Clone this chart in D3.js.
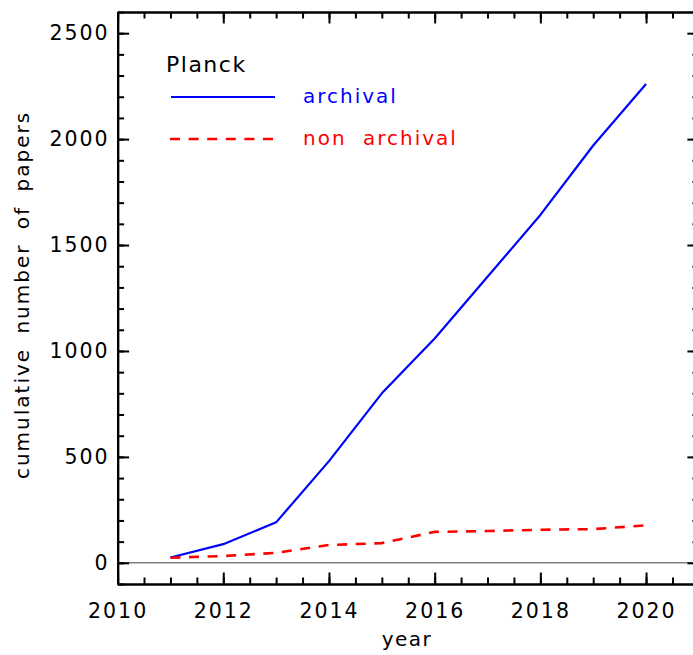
<!DOCTYPE html>
<html><head><meta charset="utf-8">
<script src="https://cdn.jsdelivr.net/npm/d3@7"></script>
<style>
body{margin:0;background:#fff;}
text{font-family:"DejaVu Sans",sans-serif;}
</style></head>
<body><svg id="c" width="693" height="655"></svg>
<script>
const years = [2011,2012,2013,2014,2015,2016,2017,2018,2019,2020];
const archival = [25,88,191,480,800,1059,1350,1642,1970,2260];
const nonArchival = [24,32,47,84,93,146,150,156,159,177];
const xMajorTicks = [2010,2012,2014,2016,2018,2020];
const yMajorTicks = [0,500,1000,1500,2000,2500];
const legendTitle = "Planck";
const seriesNames = ["archival","non archival"];
const xTitle = "year";
const yTitle = "cumulative number of papers";

const svg = d3.select("#c");
const x = d3.scaleLinear().domain([2010,2021]).range([117.6,698.9]);
const y = d3.scaleLinear().domain([-100,2600]).range([584,12]);

const xMinor = d3.range(2010,2021.01,0.5);
const yMinor = d3.range(-100,2600.1,100);

function styleAxis(g){
  g.selectAll("path.domain").attr("stroke","#000").attr("stroke-width",2.2);
  g.selectAll(".tick line").attr("stroke","#000").attr("stroke-width",2);
  g.selectAll(".tick text").attr("fill","#000").style("font-size","20.5px").style("letter-spacing","2px")
    .style("font-family","'DejaVu Sans',sans-serif");
}

// zero line
svg.append("line").attr("x1",x(2010)).attr("x2",x(2021)).attr("y1",y(0)).attr("y2",y(0))
  .attr("stroke","#808080").attr("stroke-width",1.6);

// minor ticks
const bMin = svg.append("g").attr("transform",`translate(0,${y(-100)})`)
  .call(d3.axisBottom(x).tickValues(xMinor).tickSizeInner(-6.5).tickSizeOuter(0).tickFormat(""));
const tMin = svg.append("g").attr("transform",`translate(0,${y(2600)})`)
  .call(d3.axisTop(x).tickValues(xMinor).tickSizeInner(-6.5).tickSizeOuter(0).tickFormat(""));
const lMin = svg.append("g").attr("transform",`translate(${x(2010)},0)`)
  .call(d3.axisLeft(y).tickValues(yMinor).tickSizeInner(-6.5).tickSizeOuter(0).tickFormat(""));
const rMin = svg.append("g").attr("transform",`translate(${x(2021)},0)`)
  .call(d3.axisRight(y).tickValues(yMinor).tickSizeInner(-6.5).tickSizeOuter(0).tickFormat(""));
[bMin,tMin,lMin,rMin].forEach(styleAxis);

// major
const bMaj = svg.append("g").attr("transform",`translate(0,${y(-100)})`)
  .call(d3.axisBottom(x).tickValues(xMajorTicks).tickSizeInner(-11.5).tickSizeOuter(0).tickPadding(19).tickFormat(d3.format("d")));
const tMaj = svg.append("g").attr("transform",`translate(0,${y(2600)})`)
  .call(d3.axisTop(x).tickValues(xMajorTicks).tickSizeInner(-11.5).tickSizeOuter(0).tickFormat(""));
const lMaj = svg.append("g").attr("transform",`translate(${x(2010)},0)`)
  .call(d3.axisLeft(y).tickValues(yMajorTicks).tickSizeInner(-11.5).tickSizeOuter(0).tickPadding(8).tickFormat(d3.format("d")));
const rMaj = svg.append("g").attr("transform",`translate(${x(2021)},0)`)
  .call(d3.axisRight(y).tickValues(yMajorTicks).tickSizeInner(-11.5).tickSizeOuter(0).tickFormat(""));
[bMaj,tMaj,lMaj,rMaj].forEach(styleAxis);

// lines
const line = d3.line().x((d,i)=>x(years[i])).y(d=>y(d));
svg.append("path").datum(archival).attr("d",line).attr("fill","none")
  .attr("stroke","#0000ff").attr("stroke-width",2.2).attr("stroke-linejoin","round");
svg.append("path").datum(nonArchival).attr("d",line).attr("fill","none")
  .attr("stroke","#ff0000").attr("stroke-width",2.6).attr("stroke-dasharray","10,8.6");

// legend
svg.append("text").attr("x",166).attr("y",72).text(legendTitle)
  .style("font-size","22px").style("letter-spacing","1.5px").attr("fill","#000");
svg.append("line").attr("x1",171).attr("x2",275).attr("y1",97).attr("y2",97)
  .attr("stroke","#0000ff").attr("stroke-width",2.2);
svg.append("line").attr("x1",170).attr("x2",275).attr("y1",139).attr("y2",139)
  .attr("stroke","#ff0000").attr("stroke-width",2.6).attr("stroke-dasharray","10,8.6");
svg.append("text").attr("x",303).attr("y",103).text(seriesNames[0])
  .style("font-size","20px").style("letter-spacing","2px").attr("fill","#0000ff");
svg.append("text").attr("x",303).attr("y",145).text(seriesNames[1])
  .style("font-size","20px").style("letter-spacing","2px").style("word-spacing","8px").attr("fill","#ff0000");

// axis titles
svg.append("text").attr("x",407).attr("y",646).attr("text-anchor","middle").text(xTitle)
  .style("font-size","20px").style("letter-spacing","1.5px").attr("fill","#000");
svg.append("text").attr("transform","translate(29,295) rotate(-90)").attr("text-anchor","middle").text(yTitle)
  .style("font-size","20px").style("letter-spacing","2px").style("word-spacing","6px").attr("fill","#000");
</script></body></html>
